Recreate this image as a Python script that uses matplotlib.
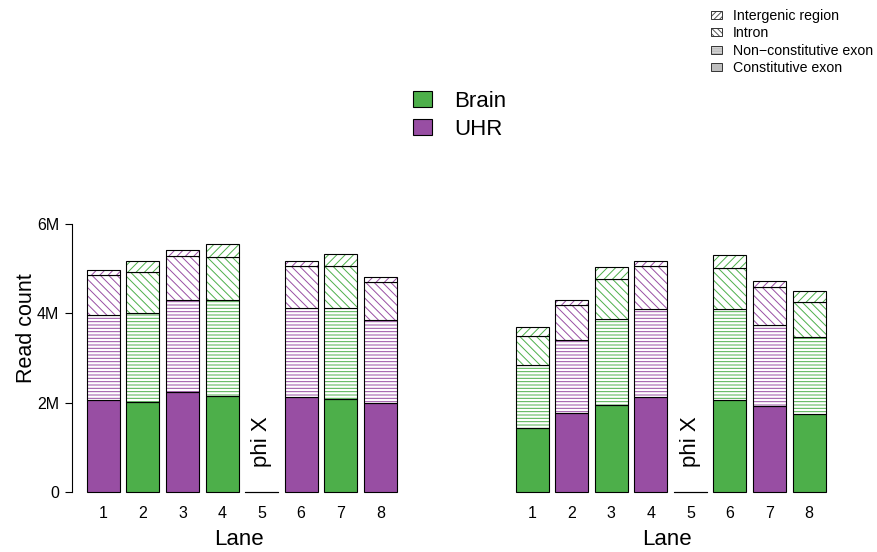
import numpy as np
import matplotlib
matplotlib.use('Agg')
import matplotlib.pyplot as plt
from matplotlib.patches import Patch

plt.rcParams['font.family'] = ['Liberation Sans', 'DejaVu Sans']
plt.rcParams['hatch.linewidth'] = 0.7

lanes = ['1', '2', '3', '4', '5', '6', '7', '8']
regions = ['Constitutive exon', 'Non\u2212constitutive exon', 'Intron', 'Intergenic region']

# read counts (millions) per region, lane 5 is the phi X control
left_sample = ['UHR', 'Brain', 'UHR', 'Brain', 'phiX', 'UHR', 'Brain', 'UHR']
left_const = [2.05, 2.02, 2.23, 2.16, 0, 2.13, 2.08, 1.99]
left_noncon = [1.92, 1.995, 2.08, 2.14, 0, 2.00, 2.05, 1.86]
left_intron = [0.895, 0.905, 0.98, 0.96, 0, 0.94, 0.92, 0.86]
left_interg = [0.095, 0.26, 0.12, 0.285, 0, 0.11, 0.285, 0.10]

right_sample = ['Brain', 'UHR', 'Brain', 'UHR', 'phiX', 'Brain', 'UHR', 'Brain']
right_const = [1.425, 1.76, 1.955, 2.127, 0, 2.05, 1.93, 1.745]
right_noncon = [1.41, 1.65, 1.925, 1.975, 0, 2.04, 1.81, 1.725]
right_intron = [0.65, 0.776, 0.88, 0.96, 0, 0.93, 0.86, 0.79]
right_interg = [0.20, 0.104, 0.285, 0.12, 0, 0.29, 0.115, 0.25]

colors = {'Brain': '#4DAF4A', 'UHR': '#984EA3', 'phiX': '#000000'}
hatches = [None, '-----', '\\\\\\\\', '////']

W, H = 878, 552
fig = plt.figure(figsize=(W / 100, H / 100), dpi=100)

def px_axes(x0, width):
    # axes rect from pixel coords; y range -0.2M..6.2M maps to 500.9..215.1 px
    bottom, top = 500.9, 215.1
    return [x0 / W, 1 - bottom / H, width / W, (bottom - top) / H]

def draw_panel(ax, sample, segs, show_y):
    x = 0.7 + 1.2 * np.arange(len(lanes))
    base = np.zeros(len(lanes))
    cols = [colors[s] for s in sample]
    for vals, h in zip(segs, hatches):
        vals = np.array(vals) * 1e6
        if h is None:
            ax.bar(x, vals, width=1, bottom=base, color=cols, edgecolor='black', linewidth=0.8)
        else:
            for xi, v, b, c in zip(x, vals, base, cols):
                if v <= 0:
                    continue
                ax.bar(xi, v, width=1, bottom=b, facecolor='white', edgecolor=c, hatch=h, linewidth=0)
                ax.bar(xi, v, width=1, bottom=b, fill=False, edgecolor='black', linewidth=0.8)
        base = base + vals
    # phi X lane: empty bar drawn as baseline
    i5 = sample.index('phiX')
    ax.plot([x[i5] - 0.5, x[i5] + 0.5], [0, 0], color='black', lw=0.8)
    ax.text(x[i5], 0.55e6, 'phi X', rotation=90, ha='center', va='bottom', fontsize=16)

    ax.set_xlim(-0.25, 9.85)
    ax.set_ylim(-0.2e6, 6.2e6)
    ax.set_xticks(x)
    ax.set_xticklabels(lanes, fontsize=11.5)
    ax.tick_params(axis='x', length=0, pad=4)
    for s in ['top', 'right', 'bottom']:
        ax.spines[s].set_visible(False)
    ax.set_xlabel('Lane', fontsize=16)
    ax.xaxis.set_label_coords(0.5, -0.097)
    if show_y:
        ax.set_yticks([0, 2e6, 4e6, 6e6])
        ax.set_yticklabels(['0', '2M', '4M', '6M'], fontsize=11.5)
        ax.spines['left'].set_bounds(0, 6e6)
        ax.spines['left'].set_linewidth(0.8)
        ax.tick_params(axis='y', length=5, width=0.8, pad=4)
        ax.set_ylabel('Read count', fontsize=15.5)
        ax.yaxis.set_label_coords(-0.105, 0.605)
    else:
        ax.spines['left'].set_visible(False)
        ax.set_yticks([])

ax1 = fig.add_axes(px_axes(72, 333))
draw_panel(ax1, left_sample, [left_const, left_noncon, left_intron, left_interg], True)
ax2 = fig.add_axes(px_axes(500.8, 333))
draw_panel(ax2, right_sample, [right_const, right_noncon, right_intron, right_interg], False)

# sample legend
sample_handles = [Patch(facecolor=colors['Brain'], edgecolor='black', linewidth=0.8),
                  Patch(facecolor=colors['UHR'], edgecolor='black', linewidth=0.8)]
fig.legend(sample_handles, ['Brain', 'UHR'], loc='upper left',
           bbox_to_anchor=(413 / W, 1 - 91 / H), frameon=False, fontsize=16,
           handlelength=0.85, handleheight=0.7, handletextpad=1.0,
           labelspacing=0.3, borderpad=0, borderaxespad=0)

# region legend (grey keys)
region_handles = [
    (Patch(facecolor='white', edgecolor='#555555', hatch='//////', linewidth=0),
     Patch(fill=False, edgecolor='#333333', linewidth=0.7)),
    (Patch(facecolor='white', edgecolor='#555555', hatch='\\\\\\\\\\\\', linewidth=0),
     Patch(fill=False, edgecolor='#333333', linewidth=0.7)),
    (Patch(facecolor='white', edgecolor='#888888', hatch='--------', linewidth=0),
     Patch(fill=False, edgecolor='#333333', linewidth=0.7)),
    Patch(facecolor='#bebebe', edgecolor='#333333', linewidth=0.7),
]
fig.legend(region_handles, regions[::-1], loc='upper left',
           bbox_to_anchor=(711 / W, 1 - 9 / H), frameon=False, fontsize=10.2,
           handlelength=0.75, handleheight=0.5, handletextpad=0.8,
           labelspacing=0.24, borderpad=0, borderaxespad=0)

fig.savefig('out.png', dpi=100)
